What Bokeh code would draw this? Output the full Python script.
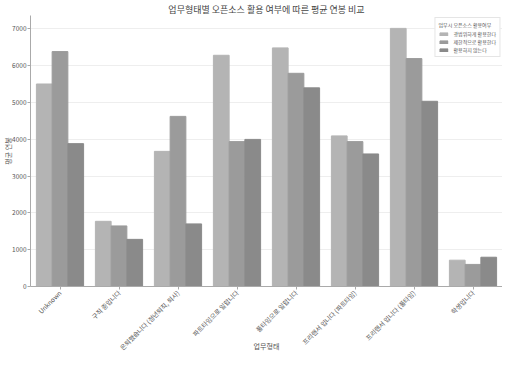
from bokeh.plotting import figure
from bokeh.models import ColumnDataSource, FactorRange, Legend, LegendItem
from bokeh.transform import dodge
from bokeh.embed import file_html
from bokeh.resources import INLINE
import math

categories = ["Unknown", "구직 중입니다", "은퇴했습니다 (정년퇴직, 퇴사)", "파트타임으로 일합니다",
              "풀타임으로 일합니다", "프리랜서 입니다 (파트타임)", "프리랜서 입니다 (풀타임)", "학생입니다"]
series_names = ["광범위하게 활용한다", "제한적으로 활용한다", "활용하지 않는다"]
s1 = [5500, 1770, 3670, 6280, 6480, 4090, 7010, 715]
s2 = [6380, 1645, 4620, 3935, 5790, 3935, 6190, 600]
s3 = [3880, 1280, 1700, 3995, 5395, 3600, 5030, 795]
colors = ["#b4b4b4", "#9b9b9b", "#8a8a8a"]

FONT = "Noto Sans CJK KR"

src = ColumnDataSource(dict(cat=categories, s1=s1, s2=s2, s3=s3))

p = figure(x_range=FactorRange(*categories), y_range=(0, 7360),
           width=502, height=353, output_backend="svg", toolbar_location=None,
           title="업무형태별 오픈소스 활용 여부에 따른 평균 연봉 비교",
           min_border_left=0, min_border_right=0, min_border_top=0, min_border_bottom=0)
p.title.align = "center"
p.title.text_font = FONT
p.title.text_font_size = "9px"
p.title.text_font_style = "normal"
p.title.text_color = "#444444"
p.title.standoff = 0
p.title.offset = 0

w = 0.8 / 3
renderers = []
for i, (key, col) in enumerate(zip(["s1", "s2", "s3"], colors)):
    r = p.vbar(x=dodge("cat", (i - 1) * w, range=p.x_range), top=key, width=w,
               source=src, fill_color=col, line_color=col)
    renderers.append(r)

legend = Legend(items=[LegendItem(label=n, renderers=[r]) for n, r in zip(series_names, renderers)],
                location="top_right", title="업무시 오픈소스 활용여부")
legend.title_text_font = FONT
legend.title_text_font_size = "5px"
legend.title_text_font_style = "normal"
legend.title_text_color = "#555555"
legend.label_text_font = FONT
legend.label_text_font_size = "5px"
legend.label_text_color = "#555555"
legend.glyph_width = 10
legend.glyph_height = 4
legend.label_height = 6
legend.spacing = 1
legend.padding = 3
legend.margin = 2
legend.border_line_color = "#cccccc"
legend.title_standoff = 2
p.add_layout(legend)

p.xaxis.major_label_orientation = math.pi / 4
p.xaxis.axis_label = "\n\n업무형태"
p.yaxis.axis_label = "평균 연봉"
for ax in (p.xaxis, p.yaxis):
    ax.axis_label_text_font = FONT
    ax.axis_label_text_font_size = "7px"
    ax.axis_label_text_font_style = "normal"
    ax.axis_label_text_color = "#555555"
    ax.major_label_text_font = FONT
    ax.major_label_text_font_size = "6.5px"
    ax.major_label_text_color = "#555555"
    ax.axis_line_color = "#aaaaaa"
    ax.major_tick_line_color = "#aaaaaa"
    ax.major_tick_out = 3
    ax.major_tick_in = 0
    ax.minor_tick_line_color = None
    ax.major_label_standoff = 2
p.xaxis.axis_label_standoff = -42
p.yaxis.axis_label_standoff = -4
p.yaxis.major_label_standoff = 1
p.yaxis.ticker = [0, 1000, 2000, 3000, 4000, 5000, 6000, 7000]
p.xgrid.grid_line_color = None
p.ygrid.grid_line_color = "#eeeeee"
p.outline_line_color = None

open("out.html", "w").write(file_html(p, INLINE))
